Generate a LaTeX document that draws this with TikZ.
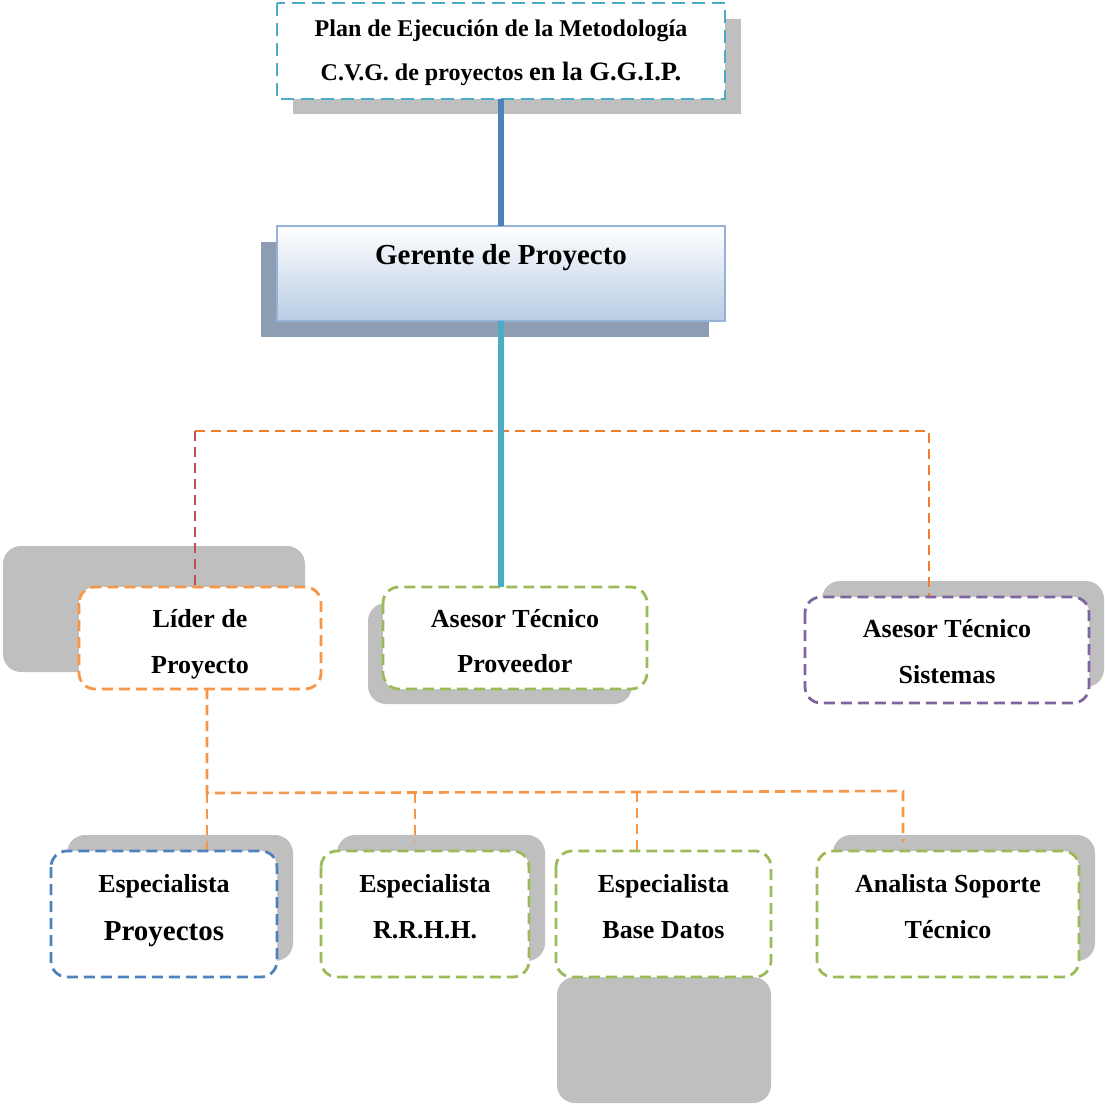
\documentclass[tikz,border=0pt]{standalone}
\usepackage{fontspec}
\setmainfont{Liberation Serif}
\usetikzlibrary{calc}

\definecolor{shadegray}{HTML}{BFBFBF}
\definecolor{shadeblue}{HTML}{8E9EB2}
\definecolor{accblue}{HTML}{4F81BD}
\definecolor{acccyan}{HTML}{4BACC6}
\definecolor{accgreen}{HTML}{9BBB59}
\definecolor{accpurple}{HTML}{8064A2}
\definecolor{accorange}{HTML}{F79646}
\definecolor{busorange}{HTML}{EF7F2E}
\definecolor{accred}{HTML}{C0504D}
\definecolor{gerborder}{HTML}{95B3D7}
\definecolor{gerbottom}{HTML}{B8CCE4}

\tikzset{
  shadowbox/.style={fill=shadegray, draw=none, inner sep=0pt, outer sep=0pt, rounded corners=18pt},
  sharpshadow/.style={fill=#1, draw=none, inner sep=0pt, outer sep=0pt},
  rolebox/.style={draw=#1, fill=white, line width=2.8pt, dash pattern=on 11pt off 6pt,
    rounded corners=16pt, inner sep=0pt, outer sep=0pt},
  lbl/.style={anchor=base, inner sep=0pt, font=\bfseries\fontsize{26}{30}\selectfont},
  link/.style={draw=#1, line width=2.6pt, dash pattern=on 10pt off 6pt},
  trunk/.style={draw=#1, line width=6pt}
}

\begin{document}
\begin{tikzpicture}[x=1pt, y=-1pt]
\useasboundingbox (0,0) rectangle (1105,1103);

% ---- shadows ----
\node[sharpshadow=shadegray, minimum width=448pt, minimum height=95pt] (plan-sh) at (517,66.5) {};
\node[sharpshadow=shadeblue, minimum width=448pt, minimum height=95pt] (ger-sh) at (485,289.5) {};
\node[shadowbox, minimum width=302pt, minimum height=126pt] (lider-sh) at (154,609) {};
\node[shadowbox, minimum width=264pt, minimum height=101pt] (prov-sh) at (500,653.5) {};
\node[shadowbox, minimum width=282pt, minimum height=106pt] (sist-sh) at (963,634) {};
\node[shadowbox, minimum width=226pt, minimum height=126pt] (esp-sh) at (180,898) {};
\node[shadowbox, minimum width=208pt, minimum height=126pt] (rrhh-sh) at (441,898) {};
\node[shadowbox, minimum width=214pt, minimum height=126pt] (bd-sh) at (664,1040) {};
\node[shadowbox, minimum width=262pt, minimum height=126pt] (ana-sh) at (964,898) {};

% ---- boxes (drawn invisible first so connectors can refer to them) ----
\path
  node[inner sep=0pt, outer sep=0pt, minimum width=448pt, minimum height=96pt] (plan) at (501,51) {}
  node[inner sep=0pt, outer sep=0pt, minimum width=448pt, minimum height=95pt] (gerente) at (501,273.5) {}
  node[inner sep=0pt, outer sep=0pt, minimum width=242pt, minimum height=102pt] (lider) at (200,638) {}
  node[inner sep=0pt, outer sep=0pt, minimum width=264pt, minimum height=102pt] (prov) at (515,638) {}
  node[inner sep=0pt, outer sep=0pt, minimum width=284pt, minimum height=106pt] (sist) at (947,650) {}
  node[inner sep=0pt, outer sep=0pt, minimum width=226pt, minimum height=126pt] (esp) at (164,914) {}
  node[inner sep=0pt, outer sep=0pt, minimum width=208pt, minimum height=126pt] (rrhh) at (425,914) {}
  node[inner sep=0pt, outer sep=0pt, minimum width=215pt, minimum height=126pt] (bd) at (663.5,914) {}
  node[inner sep=0pt, outer sep=0pt, minimum width=262pt, minimum height=126pt] (ana) at (948,914) {};

% ---- dashed connectors ----
\coordinate (busA) at (195,431);
\coordinate (busB) at (929,431);
\coordinate (lowL) at (207,793);
\coordinate (lowB) at (415,792.5);
\coordinate (lowC) at (637,792);
\coordinate (lowR) at (903,791);
\coordinate (endB) at (415,842);
\coordinate (endR) at (903,842);

\draw[link=busorange] (busA) -- (busB) -- (busB |- sist.north);
\draw[link=accred] (busA) -- (busA |- lider.north);
\draw[link=accorange] (lider.south -| lowL) -- (lowL) -- (lowB) -- (lowC) -- (lowR) -- (endR);
\draw[link=accorange] (lowL) -- (lowL |- esp.north);
\draw[link=accorange] (lowB) -- (endB);
\draw[link=accorange] (lowC) -- (lowC |- bd.north);

% ---- visible boxes ----
\draw[draw=acccyan, fill=white, line width=2.6pt, dash pattern=on 13pt off 7pt]
  (plan.north west) rectangle (plan.south east);
\draw[draw=gerborder, top color=white, bottom color=gerbottom, line width=2.4pt]
  (gerente.north west) rectangle (gerente.south east);
\draw[rolebox=accorange] (lider.north west) rectangle (lider.south east);
\draw[rolebox=accgreen] (prov.north west) rectangle (prov.south east);
\draw[rolebox=accpurple] (sist.north west) rectangle (sist.south east);
\draw[rolebox=accblue] (esp.north west) rectangle (esp.south east);
\draw[rolebox=accgreen] (rrhh.north west) rectangle (rrhh.south east);
\draw[rolebox=accgreen] (bd.north west) rectangle (bd.south east);
\draw[rolebox=accgreen] (ana.north west) rectangle (ana.south east);

% ---- solid trunks ----
\draw[trunk=accblue] (plan.south) -- (gerente.north);
\draw[trunk=acccyan] (gerente.south) -- (gerente.south |- prov.north);

% ---- texts ----
\node[anchor=base, inner sep=0pt, font=\bfseries\fontsize{24}{28}\selectfont] (plan-t1) at (501,36)
  {Plan de Ejecución de la Metodología};
\node[anchor=base, inner sep=0pt] (plan-t2) at (501,80)
  {\bfseries\fontsize{24}{28}\selectfont C.V.G. de proyectos \fontsize{26.5}{30}\selectfont en la G.G.I.P.};
\node[anchor=base, inner sep=0pt, font=\bfseries\fontsize{29}{34}\selectfont] (ger-t) at (501,264)
  {Gerente de Proyecto};

\node[lbl] (lider-t1) at (200,627) {Líder de};
\node[lbl] (lider-t2) at (200,673) {Proyecto};
\node[lbl] (prov-t1) at (515,627) {Asesor Técnico};
\node[lbl] (prov-t2) at (515,672) {Proveedor};
\node[lbl] (sist-t1) at (947,637) {Asesor Técnico};
\node[lbl] (sist-t2) at (947,683) {Sistemas};
\node[lbl] (esp-t1) at (164,892) {Especialista};
\node[lbl, font=\bfseries\fontsize{29}{34}\selectfont] (esp-t2) at (164,940) {Proyectos};
\node[lbl] (rrhh-t1) at (425,892) {Especialista};
\node[lbl] (rrhh-t2) at (425,938) {R.R.H.H.};
\node[lbl] (bd-t1) at (663.5,892) {Especialista};
\node[lbl] (bd-t2) at (663.5,938) {Base Datos};
\node[lbl] (ana-t1) at (948,892) {Analista Soporte};
\node[lbl] (ana-t2) at (948,938) {Técnico};
\end{tikzpicture}
\end{document}
